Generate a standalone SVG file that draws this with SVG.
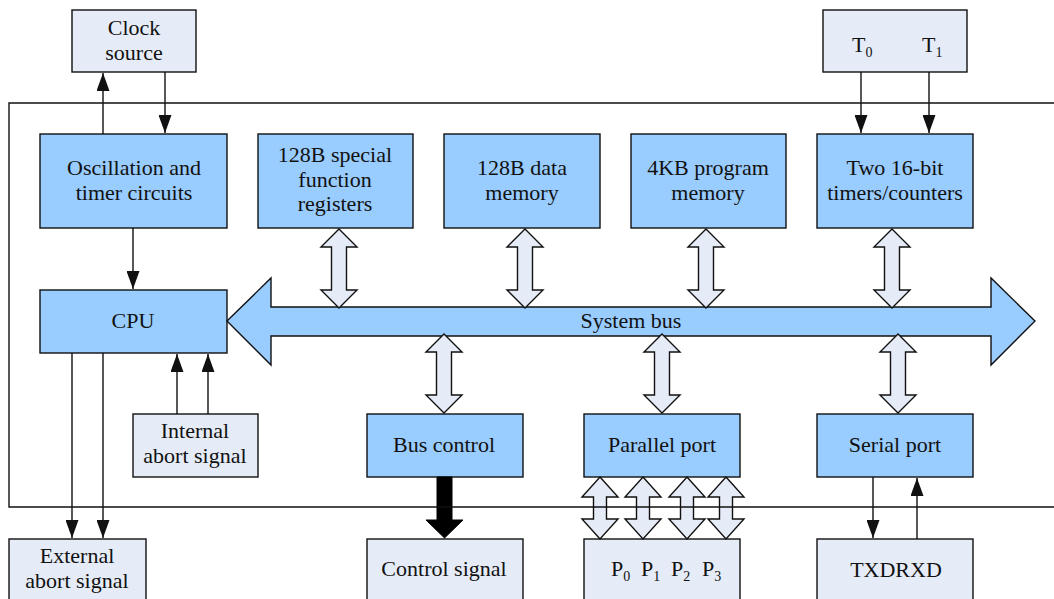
<svg xmlns="http://www.w3.org/2000/svg" width="1054" height="599" viewBox="0 0 1054 599">
  <defs>
    <style>
      .blk { fill: #99ccff; stroke: #111; stroke-width: 1.4; }
      .ext { fill: #e6ecf7; stroke: #111; stroke-width: 1.4; }
      .dbl { fill: #e6ecf7; stroke: #111; stroke-width: 1.4; stroke-linejoin: miter; }
      .bus { fill: #99ccff; stroke: #111; stroke-width: 1.4; }
      .wire { fill: none; stroke: #111; stroke-width: 1.4; marker-end: url(#head); }
      .frame { fill: none; stroke: #111; stroke-width: 1.4; }
      text { font-size: 22px; fill: #111; text-anchor: middle; }
      .sub { font-size: 14px; }
    </style>
    <marker id="head" viewBox="0 0 18 13" refX="18" refY="6.5" markerWidth="18" markerHeight="13" markerUnits="userSpaceOnUse" orient="auto">
      <path d="M0,0 L18,6.5 L0,13 Z" fill="#111"/>
    </marker>
  </defs>

  <g font-family="'Liberation Serif', 'DejaVu Serif', serif">
  <!-- external signal boxes -->
  <g id="clock-source">
    <rect class="ext" x="72" y="10" width="124" height="62"/>
    <text x="134" y="35">Clock</text>
    <text x="134" y="60">source</text>
  </g>
  <g id="timer-inputs">
    <rect class="ext" x="823" y="10" width="144" height="62"/>
    <text x="852" y="52" style="text-anchor:start">T<tspan class="sub" dy="5">0</tspan></text>
    <text x="922" y="52" style="text-anchor:start">T<tspan class="sub" dy="5">1</tspan></text>
  </g>

  <!-- on-chip blocks -->
  <g id="oscillator">
    <rect class="blk" x="40" y="134" width="187" height="94"/>
    <text x="134" y="175">Oscillation and</text>
    <text x="134" y="200">timer circuits</text>
  </g>
  <g id="sfr">
    <rect class="blk" x="258" y="134" width="155" height="94"/>
    <text x="335" y="162">128B special</text>
    <text x="335" y="187">function</text>
    <text x="335" y="211">registers</text>
  </g>
  <g id="data-memory">
    <rect class="blk" x="444" y="134" width="156" height="94"/>
    <text x="522" y="175">128B data</text>
    <text x="522" y="200">memory</text>
  </g>
  <g id="program-memory">
    <rect class="blk" x="631" y="134" width="155" height="94"/>
    <text x="708" y="175">4KB program</text>
    <text x="708" y="200">memory</text>
  </g>
  <g id="timers">
    <rect class="blk" x="817" y="134" width="156" height="94"/>
    <text x="895" y="175">Two 16-bit</text>
    <text x="895" y="200">timers/counters</text>
  </g>
  <g id="cpu">
    <rect class="blk" x="40" y="290" width="187" height="63"/>
    <text x="133" y="328">CPU</text>
  </g>
  <g id="system-bus">
    <path class="bus" d="M227,321 L271,278 L271,307 L991,307 L991,278 L1035,321 L991,365 L991,336 L271,336 L271,365 Z"/>
    <text x="631" y="328">System bus</text>
  </g>
  <g id="internal-abort">
    <rect class="ext" x="133" y="414" width="125" height="63"/>
    <text x="195" y="438">Internal</text>
    <text x="195" y="463">abort signal</text>
  </g>
  <g id="bus-control">
    <rect class="blk" x="367" y="414" width="156" height="63"/>
    <text x="444" y="452">Bus control</text>
  </g>
  <g id="parallel-port">
    <rect class="blk" x="584" y="414" width="156" height="63"/>
    <text x="662" y="452">Parallel port</text>
  </g>
  <g id="serial-port">
    <rect class="blk" x="817" y="414" width="156" height="63"/>
    <text x="895" y="452">Serial port</text>
  </g>

  <!-- external pins -->
  <g id="external-abort">
    <rect class="ext" x="9" y="539" width="137" height="70"/>
    <text x="77" y="563">External</text>
    <text x="77" y="588">abort signal</text>
  </g>
  <g id="control-signal">
    <rect class="ext" x="367" y="539" width="156" height="70"/>
    <text x="444" y="576">Control signal</text>
  </g>
  <g id="port-pins">
    <rect class="ext" x="584" y="539" width="156" height="70"/>
    <text x="611" y="576" style="text-anchor:start">P<tspan class="sub" dy="5">0</tspan></text>
    <text x="641" y="576" style="text-anchor:start">P<tspan class="sub" dy="5">1</tspan></text>
    <text x="671" y="576" style="text-anchor:start">P<tspan class="sub" dy="5">2</tspan></text>
    <text x="702" y="576" style="text-anchor:start">P<tspan class="sub" dy="5">3</tspan></text>
  </g>
  <g id="serial-pins">
    <rect class="ext" x="817" y="539" width="156" height="70"/>
    <text x="896" y="577">TXDRXD</text>
  </g>
  </g>

  <!-- connectors -->
  <g id="connectors">
    <!-- bus links above the system bus -->
    <path class="dbl" d="M339,229 L357,247 L346.5,247 L346.5,290 L357,290 L339,308 L321,290 L331.5,290 L331.5,247 L321,247 Z"/>
    <path class="dbl" d="M525,229 L543,247 L532.5,247 L532.5,290 L543,290 L525,308 L507,290 L517.5,290 L517.5,247 L507,247 Z"/>
    <path class="dbl" d="M706,229 L724,247 L713.5,247 L713.5,290 L724,290 L706,308 L688,290 L698.5,290 L698.5,247 L688,247 Z"/>
    <path class="dbl" d="M892,229 L910,247 L899.5,247 L899.5,290 L910,290 L892,308 L874,290 L884.5,290 L884.5,247 L874,247 Z"/>
    <!-- bus links below the system bus -->
    <path class="dbl" d="M444,334 L462,352 L451.5,352 L451.5,395 L462,395 L444,413 L426,395 L436.5,395 L436.5,352 L426,352 Z"/>
    <path class="dbl" d="M662,334 L680,352 L669.5,352 L669.5,395 L680,395 L662,413 L644,395 L654.5,395 L654.5,352 L644,352 Z"/>
    <path class="dbl" d="M898,334 L916,352 L905.5,352 L905.5,395 L916,395 L898,413 L880,395 L890.5,395 L890.5,352 L880,352 Z"/>
    <!-- parallel port lines -->
    <path class="dbl" d="M600,477 L618,497 L606.5,497 L606.5,519 L618,519 L600,539 L582,519 L593.5,519 L593.5,497 L582,497 Z"/>
    <path class="dbl" d="M643,477 L661,497 L649.5,497 L649.5,519 L661,519 L643,539 L625,519 L636.5,519 L636.5,497 L625,497 Z"/>
    <path class="dbl" d="M687,477 L705,497 L693.5,497 L693.5,519 L705,519 L687,539 L669,519 L680.5,519 L680.5,497 L669,497 Z"/>
    <path class="dbl" d="M726,477 L744,497 L732.5,497 L732.5,519 L744,519 L726,539 L708,519 L719.5,519 L719.5,497 L708,497 Z"/>
    <!-- control bus output -->
    <path d="M437,477 L452,477 L452,520 L463,520 L444.5,538 L426,520 L437,520 Z" fill="#000" stroke="#000" stroke-width="1"/>
    <!-- clock -->
    <line class="wire" x1="103" y1="134" x2="103" y2="73"/>
    <line class="wire" x1="165" y1="72" x2="165" y2="133"/>
    <line class="wire" x1="133" y1="228" x2="133" y2="289"/>
    <!-- timer inputs -->
    <line class="wire" x1="861" y1="72" x2="861" y2="133"/>
    <line class="wire" x1="929" y1="72" x2="929" y2="133"/>
    <!-- abort signals -->
    <line class="wire" x1="177" y1="414" x2="177" y2="354"/>
    <line class="wire" x1="208" y1="414" x2="208" y2="354"/>
    <line class="wire" x1="72" y1="353" x2="72" y2="538"/>
    <line class="wire" x1="103" y1="353" x2="103" y2="538"/>
    <!-- serial lines -->
    <line class="wire" x1="873" y1="477" x2="873" y2="538"/>
    <line class="wire" x1="917" y1="539" x2="917" y2="478"/>
  </g>

  <!-- chip boundary -->
  <g id="chip-frame">
    <path class="frame" d="M1054,103 L9,103 L9,507 L1054,507"/>
  </g>
</svg>
